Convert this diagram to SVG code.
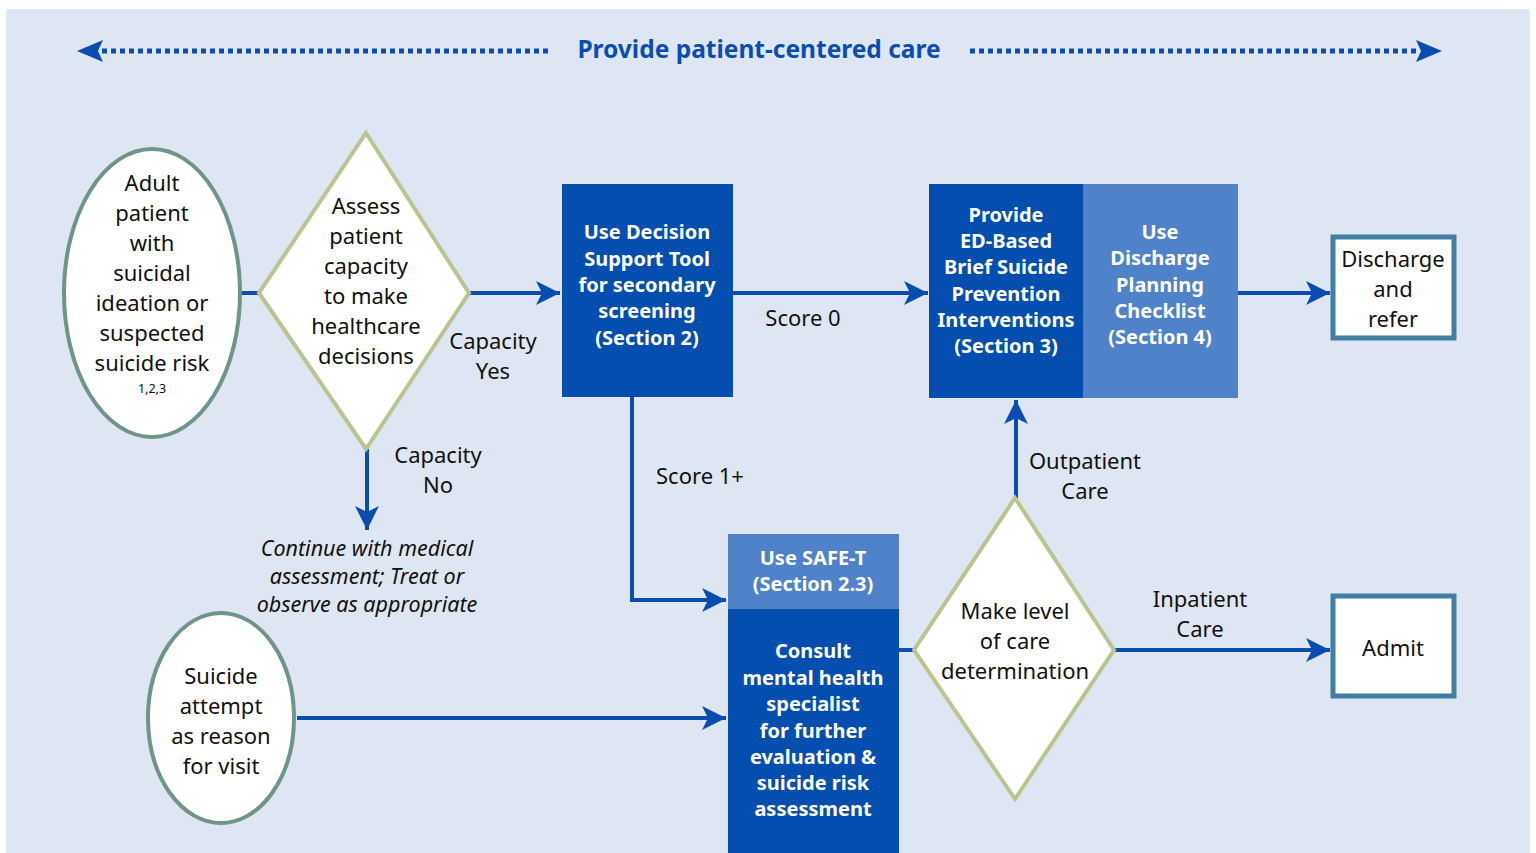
<svg xmlns="http://www.w3.org/2000/svg" width="1536" height="853" viewBox="0 0 1536 853">
<defs>
<style>
.bg{fill:#dfe6f3}
.conn{stroke:#0a4db0;stroke-width:4;fill:none}
.dot{stroke:#0a4db0;stroke-width:5;fill:none;stroke-dasharray:5 4}
.oval{fill:#fff;stroke:#6e9585;stroke-width:4}
.dia{fill:#fff;stroke:#b9c48f;stroke-width:4}
.dark{fill:#034eae}
.light{fill:#4f82c8}
.term{fill:#fff;stroke:#3f7fa3;stroke-width:5}
text{font-family:"Noto Sans","Liberation Sans",sans-serif;text-anchor:middle;dominant-baseline:central}
.t{font-size:22px;fill:#111}
.w{font-size:20px;fill:#fff;font-weight:bold}
.it{font-size:21.5px;fill:#111;font-style:italic}
.title{font-size:24.5px;fill:#0a4db0;font-weight:bold}
.sup{font-size:12.5px;fill:#111}
</style>
<marker id="ah" markerUnits="userSpaceOnUse" markerWidth="24" markerHeight="24" refX="24" refY="12" orient="auto">
<path d="M0,0 L24,12 L0,24 L6,12 z" fill="#0a4db0"/>
</marker>
</defs>
<rect x="6" y="9" width="1524" height="844" class="bg"/>

<g id="banner">
<line x1="548" y1="51" x2="101" y2="51" class="dot"/>
<path d="M77,51 L103,40 L98,51 L103,62 z" fill="#0a4db0"/>
<line x1="970" y1="51" x2="1417" y2="51" class="dot"/>
<path d="M1442,51 L1416,40 L1421,51 L1416,62 z" fill="#0a4db0"/>
<text x="759" y="48" class="title">Provide patient-centered care</text>
</g>

<g id="connectors">
<line x1="240" y1="293" x2="259" y2="293" class="conn"/>
<line x1="469" y1="293" x2="560" y2="293" class="conn" marker-end="url(#ah)"/>
<line x1="733" y1="293" x2="928" y2="293" class="conn" marker-end="url(#ah)"/>
<line x1="1238" y1="293" x2="1330" y2="293" class="conn" marker-end="url(#ah)"/>
<line x1="367" y1="449" x2="367" y2="530" class="conn" marker-end="url(#ah)"/>
<polyline points="632,397 632,600 726,600" class="conn" marker-end="url(#ah)"/>
<line x1="297" y1="718" x2="726" y2="718" class="conn" marker-end="url(#ah)"/>
<line x1="899" y1="650" x2="914" y2="650" class="conn"/>
<line x1="1016" y1="498" x2="1016" y2="400" class="conn" marker-end="url(#ah)"/>
<line x1="1114" y1="650" x2="1330" y2="650" class="conn" marker-end="url(#ah)"/>
<text x="493" y="340" class="t">Capacity</text>
<text x="493" y="370" class="t">Yes</text>
<text x="438" y="454" class="t">Capacity</text>
<text x="438" y="484" class="t">No</text>
<text x="803" y="317" class="t">Score 0</text>
<text x="700" y="475" class="t">Score 1+</text>
<text x="1085" y="460" class="t">Outpatient</text>
<text x="1085" y="490" class="t">Care</text>
<text x="1200" y="598" class="t">Inpatient</text>
<text x="1200" y="628" class="t">Care</text>
</g>

<g id="start-ideation">
<ellipse cx="152" cy="293" rx="88" ry="144" class="oval"/>
<text x="152" y="182" class="t">Adult</text>
<text x="152" y="212" class="t">patient</text>
<text x="152" y="242" class="t">with</text>
<text x="152" y="272" class="t">suicidal</text>
<text x="152" y="302" class="t">ideation or</text>
<text x="152" y="332" class="t">suspected</text>
<text x="152" y="362" class="t">suicide risk</text>
<text x="152" y="388" class="sup">1,2,3</text>
</g>

<g id="assess-capacity">
<polygon points="366,133 469,293 366,449 259,293" class="dia"/>
<text x="366" y="205" class="t">Assess</text>
<text x="366" y="235" class="t">patient</text>
<text x="366" y="265" class="t">capacity</text>
<text x="366" y="295" class="t">to make</text>
<text x="366" y="325" class="t">healthcare</text>
<text x="366" y="355" class="t">decisions</text>
</g>

<g id="continue-medical">
<text x="367" y="547" class="it">Continue with medical</text>
<text x="367" y="575" class="it">assessment; Treat or</text>
<text x="367" y="603" class="it">observe as appropriate</text>
</g>

<g id="decision-tool">
<rect x="562" y="184" width="171" height="213" class="dark"/>
<text x="647" y="231" class="w">Use Decision</text>
<text x="647" y="258" class="w">Support Tool</text>
<text x="647" y="284" class="w">for secondary</text>
<text x="647" y="310" class="w">screening</text>
<text x="647" y="337" class="w">(Section 2)</text>
</g>

<g id="brief-interventions">
<rect x="929" y="184" width="154" height="214" class="dark"/>
<text x="1006" y="214" class="w">Provide</text>
<text x="1006" y="240" class="w">ED-Based</text>
<text x="1006" y="266" class="w">Brief Suicide</text>
<text x="1006" y="293" class="w">Prevention</text>
<text x="1006" y="319" class="w">Interventions</text>
<text x="1006" y="345" class="w">(Section 3)</text>
</g>

<g id="discharge-checklist">
<rect x="1083" y="184" width="155" height="214" class="light"/>
<text x="1160" y="231" class="w">Use</text>
<text x="1160" y="257" class="w">Discharge</text>
<text x="1160" y="284" class="w">Planning</text>
<text x="1160" y="310" class="w">Checklist</text>
<text x="1160" y="336" class="w">(Section 4)</text>
</g>

<g id="discharge-refer">
<rect x="1333" y="237" width="121" height="101" class="term"/>
<text x="1393" y="258" class="t">Discharge</text>
<text x="1393" y="288" class="t">and</text>
<text x="1393" y="318" class="t">refer</text>
</g>

<g id="safe-t">
<rect x="728" y="534" width="171" height="75" class="light"/>
<text x="813" y="557" class="w">Use SAFE-T</text>
<text x="813" y="583" class="w">(Section 2.3)</text>
</g>

<g id="consult">
<rect x="728" y="609" width="171" height="244" class="dark"/>
<text x="813" y="650" class="w">Consult</text>
<text x="813" y="677" class="w">mental health</text>
<text x="813" y="703" class="w">specialist</text>
<text x="813" y="730" class="w">for further</text>
<text x="813" y="756" class="w">evaluation &amp;</text>
<text x="813" y="782" class="w">suicide risk</text>
<text x="813" y="808" class="w">assessment</text>
</g>

<g id="start-attempt">
<ellipse cx="221" cy="718" rx="73" ry="105" class="oval"/>
<text x="221" y="675" class="t">Suicide</text>
<text x="221" y="705" class="t">attempt</text>
<text x="221" y="735" class="t">as reason</text>
<text x="221" y="765" class="t">for visit</text>
</g>

<g id="level-of-care">
<polygon points="1015,498 1114,650 1015,799 914,650" class="dia"/>
<text x="1015" y="610" class="t">Make level</text>
<text x="1015" y="640" class="t">of care</text>
<text x="1015" y="670" class="t">determination</text>
</g>

<g id="admit">
<rect x="1333" y="596" width="121" height="100" class="term"/>
<text x="1393" y="647" class="t">Admit</text>
</g>
</svg>
